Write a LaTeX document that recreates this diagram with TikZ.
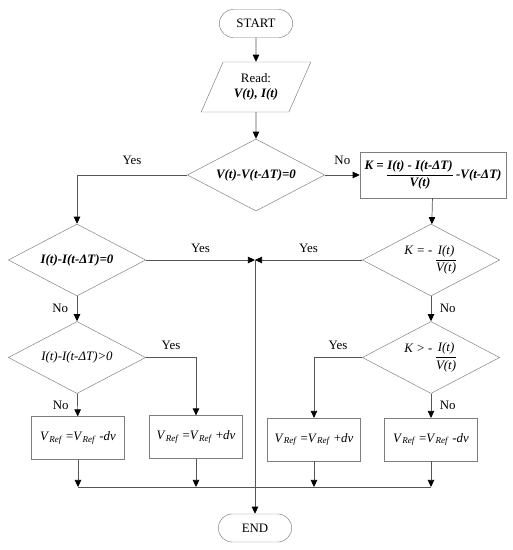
\documentclass[tikz,border=0pt]{standalone}
\usepackage{amsmath}
\usepackage{fontspec}
\setmainfont{Liberation Serif}
\usetikzlibrary{shapes.geometric, arrows.meta, positioning}
\definecolor{linegray}{RGB}{85,85,85}
\definecolor{shapegray}{RGB}{125,125,125}
\newcommand{\vref}{\textit{V}\textsubscript{\textit{Ref}}}

\begin{document}
\begin{tikzpicture}[x=0.03cm, y=-0.03cm,
  >={Triangle[length=6pt,width=5.5pt,color=black]},
  every node/.style={font=\fontsize{11}{13}\selectfont, text=black},
  terminal/.style={draw=shapegray, rounded corners=0.42cm, minimum width=2.2cm, minimum height=0.84cm},
  readbox/.style={draw=shapegray, trapezium, trapezium left angle=62, trapezium right angle=118,
    trapezium stretches=true, minimum width=3.3cm, minimum height=1.5cm, align=center, inner sep=1pt},
  decision/.style={draw=shapegray, diamond, aspect=2, inner sep=0pt, minimum width=4.12cm,
    minimum height=2.16cm, font=\fontsize{11}{13}\selectfont\itshape},
  process/.style={draw=shapegray, rectangle, minimum width=2.78cm, minimum height=1.28cm},
  flow/.style={->, linegray, line width=0.6pt},
  line/.style={linegray, line width=0.6pt}]

\useasboundingbox (0,0) rectangle (513,550);

% Start and input
\node[terminal] at (256,23.5) (start) {START};
\node[readbox] at (256,87) (read) {Read:\\ \textit{\textbf{V(t), I(t)}}};

% First test
\node[decision] at (256,175) (d1) {\bfseries V(t)-V(t-ΔT)=0};
\node[draw=shapegray, minimum width=4.38cm, minimum height=1.38cm, inner sep=1pt,
  font=\fontsize{11}{13}\selectfont\bfseries\itshape] at (433,175) (kbox)
  {\raisebox{7pt}{K =}\,$\dfrac{\text{I(t) - I(t-ΔT)}}{\text{V(t)}}$\,-V(t-ΔT)};

% Left branch
\node[decision] at (77,260) (d3) {\bfseries I(t)-I(t-ΔT)=0};
\node[decision] at (77,357.5) (d5) {I(t)-I(t-ΔT)>0};
\node[process] at (78,438) (bl1) {\vref{} =\vref{} -\textit{dv}};
\node[process] at (196,437) (bl2) {\vref{} =\vref{} +\textit{dv}};

% Right branch
\node[decision] at (431,260) (d2) {\raisebox{7pt}{K = -}\,$\dfrac{\text{I(t)}}{\text{V(t)}}$};
\node[decision] at (431,357.5) (d4) {\raisebox{7pt}{K > -}\,$\dfrac{\text{I(t)}}{\text{V(t)}}$};
\node[process] at (314,439.5) (br1) {\vref{} =\vref{} +\textit{dv}};
\node[process] at (431,439.5) (br2) {\vref{} =\vref{} -\textit{dv}};

% End
\node[terminal] at (255,528) (stop) {END};

\coordinate (join) at (255,260);
\coordinate (bus) at (0,487);

% Connections
\draw[flow] (start) -- (read);
\draw[flow] (read) -- (d1);
\draw[flow] (d1) -- node[above=5pt] {No} (kbox);
\draw[flow] (d1) -| node[pos=0.25, above=5pt] {Yes} (d3);
\draw[flow] (kbox) -- (d2);
\draw[flow] (d2) -- node[above=3pt] {Yes} (join);
\draw[flow] (d3) -- node[above=3pt] {Yes} (join);
\draw[flow] (join) -- (stop);
\draw[flow] (d3) -- node[left=4pt] {No} (d5);
\draw[flow] (d2) -- node[right=4pt] {No} (d4);
\draw[flow] (d5) -| node[pos=0.25, above=3pt] {Yes} (bl2);
\draw[flow] (d5) -- node[left=4pt] {No} (bl1);
\draw[flow] (d4) -| node[pos=0.25, above=3pt] {Yes} (br1);
\draw[flow] (d4) -- node[right=4pt] {No} (br2);

\foreach \blk in {bl1,bl2,br1,br2} {
  \draw[flow] (\blk) -- (\blk |- bus);
}
\draw[line] (bl1 |- bus) -- (br2 |- bus);

\end{tikzpicture}
\end{document}
